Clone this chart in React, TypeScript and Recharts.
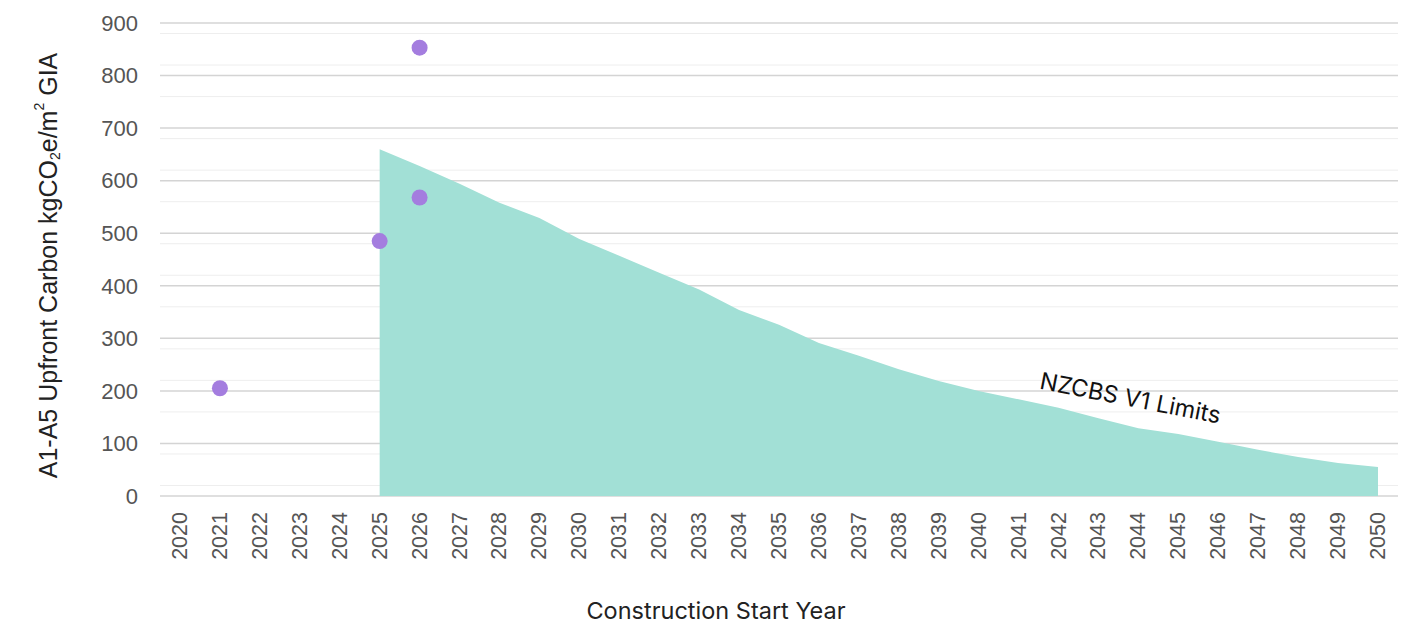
import React from "react"
import {
  Area,
  CartesianGrid,
  ComposedChart,
  Line,
  ReferenceDot,
  XAxis,
  YAxis,
} from "recharts"

const years = [
  "2020", "2021", "2022", "2023", "2024", "2025", "2026", "2027", "2028", "2029",
  "2030", "2031", "2032", "2033", "2034", "2035", "2036", "2037", "2038", "2039",
  "2040", "2041", "2042", "2043", "2044", "2045", "2046", "2047", "2048", "2049",
  "2050",
]

// NZCBS V1 limit per year (null before 2025)
const limits = [
  null, null, null, null, null, 660, 628, 594, 558, 529,
  489, 457, 425, 393, 354, 326, 291, 267, 241, 219,
  200, 184, 168, 148, 129, 118, 103, 88, 74, 63,
  55,
]

// measured projects (two can share a year)
const projectsA = [
  null, 205, null, null, null, 485, 568, null, null, null,
  null, null, null, null, null, null, null, null, null, null,
  null, null, null, null, null, null, null, null, null, null,
  null,
]
const projectsB = [
  null, null, null, null, null, null, 853, null, null, null,
  null, null, null, null, null, null, null, null, null, null,
  null, null, null, null, null, null, null, null, null, null,
  null,
]

const yTicks = [0, 100, 200, 300, 400, 500, 600, 700, 800, 900]
const minorTicks = [
  20, 40, 60, 80, 120, 140, 160, 180, 220, 240, 260, 280, 320, 340, 360, 380,
  420, 440, 460, 480, 520, 540, 560, 580, 620, 640, 660, 680, 720, 740, 760, 780,
  820, 840, 860, 880,
]

const data = years.map((year, i) => ({
  year,
  limit: limits[i],
  a: projectsA[i],
  b: projectsB[i],
}))

const TEAL = "#a2e0d6"
const PURPLE = "#a47ddf"
const TICK_FONT = "'Liberation Sans', Arial, sans-serif"

function XTick(props: any) {
  const { x, y, payload } = props
  return (
    <text
      x={x}
      y={y}
      transform={`rotate(-90, ${x}, ${y})`}
      textAnchor="end"
      dominantBaseline="central"
      fill="#555"
      fontSize={21.5}
      fontFamily={TICK_FONT}
    >
      {payload.value}
    </text>
  )
}

function YTitle(props: any) {
  const { viewBox } = props
  const cx = viewBox.x - 52
  const cy = viewBox.y + viewBox.height / 2 + 6
  return (
    <text
      x={cx}
      y={cy}
      transform={`rotate(-90, ${cx}, ${cy})`}
      textAnchor="middle"
      dominantBaseline="central"
      fill="#222"
      fontSize={25}
      fontFamily={TICK_FONT}
    >
      <tspan>A1-A5 Upfront Carbon kgCO</tspan>
      <tspan fontSize={14} dy={7}>2</tspan>
      <tspan dy={-7}>e/m</tspan>
      <tspan fontSize={14} dy={-9}>2</tspan>
      <tspan dy={9}> GIA</tspan>
    </text>
  )
}

function XTitle(props: any) {
  const { viewBox } = props
  return (
    <text
      x={viewBox.x + viewBox.width / 2 - 63}
      y={610}
      textAnchor="middle"
      dominantBaseline="central"
      fill="#222"
      fontSize={23.5}
      fontFamily="Inter, sans-serif"
    >
      Construction Start Year
    </text>
  )
}

function LimitLabel(props: any) {
  const { viewBox } = props
  const cx = viewBox.x - 8
  const cy = viewBox.y
  return (
    <text
      x={cx}
      y={cy}
      transform={`rotate(11, ${cx}, ${cy})`}
      textAnchor="middle"
      dominantBaseline="central"
      fill="#111"
      fontSize={23.5}
      fontFamily="Inter, sans-serif"
    >
      NZCBS V1 Limits
    </text>
  )
}

export default function App() {
  return (
    <div style={{ position: "absolute", left: 0, top: 0, width: 1410, height: 624, background: "#fff" }}>
      <ComposedChart
        width={1410}
        height={624}
        data={data}
        margin={{ top: 23, right: 12, left: 100, bottom: 0 }}
      >
        <CartesianGrid
          vertical={false}
          horizontalValues={minorTicks}
          stroke="#eeeeee"
          strokeWidth={1}
        />
        <CartesianGrid vertical={false} stroke="#d4d4d4" strokeWidth={1.5} />
        <XAxis
          dataKey="year"
          height={128}
          interval={0}
          padding={{ left: 20, right: 20 }}
          axisLine={false}
          tickLine={false}
          tickMargin={10}
          tick={<XTick />}
          label={<XTitle />}
        />
        <YAxis
          width={60}
          domain={[0, 900]}
          ticks={yTicks}
          axisLine={false}
          tickLine={false}
          tickMargin={16}
          tick={{ fill: "#555", fontSize: 22, fontFamily: TICK_FONT }}
          label={<YTitle />}
        />
        <Area
          type="linear"
          dataKey="limit"
          fill={TEAL}
          fillOpacity={1}
          stroke="none"
          isAnimationActive={false}
        />
        <Line
          dataKey="a"
          stroke="none"
          dot={{ r: 8, fill: PURPLE, stroke: "none" }}
          activeDot={false}
          isAnimationActive={false}
        />
        <Line
          dataKey="b"
          stroke="none"
          dot={{ r: 8, fill: PURPLE, stroke: "none" }}
          activeDot={false}
          isAnimationActive={false}
        />
        <ReferenceDot x="2044" y={187} r={0} stroke="none" fill="none" label={<LimitLabel />} />
      </ComposedChart>
    </div>
  )
}
